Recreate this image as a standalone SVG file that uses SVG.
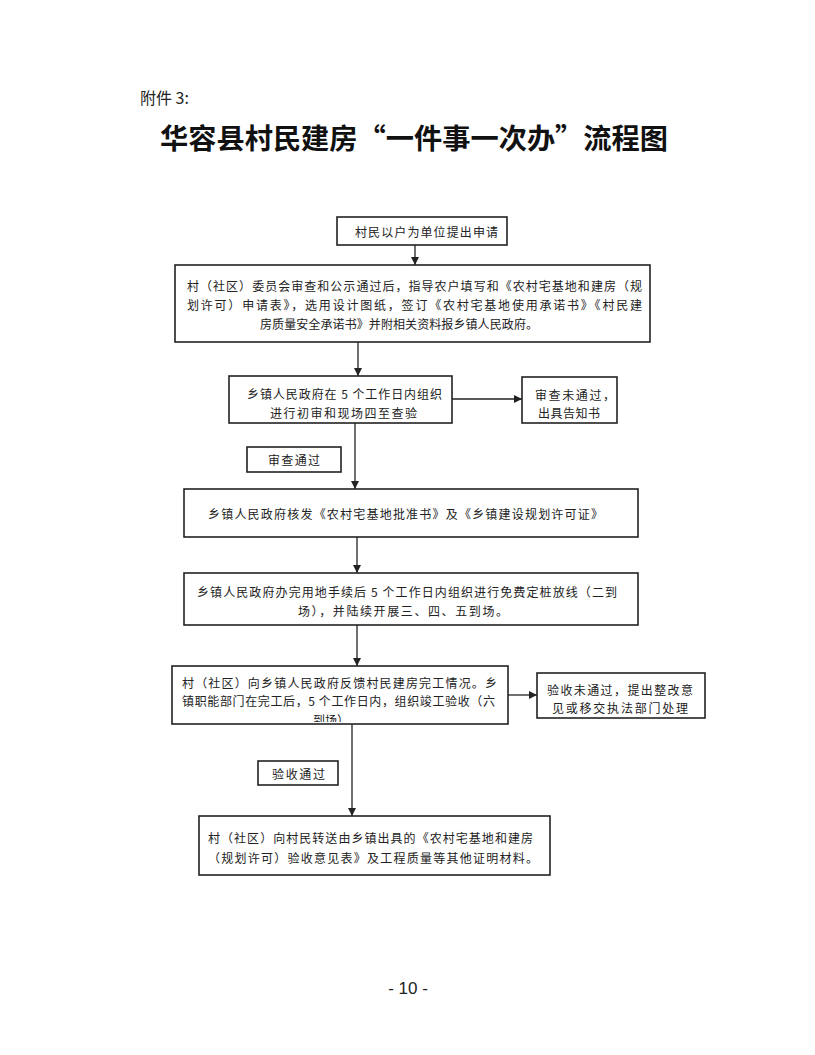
<svg xmlns="http://www.w3.org/2000/svg" width="815" height="1055" viewBox="0 0 815 1055">
<style>
.box{fill:#fff;stroke:#222;stroke-width:1.6}
.t{font-family:"Noto Sans CJK SC","Noto Sans",sans-serif;font-size:12px;fill:#222;dominant-baseline:central}
.c{stroke:#222;stroke-width:1.3;fill:none;marker-end:url(#ah)}
</style>
<defs>
<marker id="ah" viewBox="0 0 10 10" refX="10" refY="5" markerWidth="9" markerHeight="8" markerUnits="userSpaceOnUse" orient="auto">
<path d="M0,0 L10,5 L0,10 z" fill="#222"/>
</marker>
<clipPath id="clip7"><rect x="172" y="666" width="336" height="56"/></clipPath>
</defs>
<rect width="815" height="1055" fill="#fff"/>
<text x="140" y="97" style="font-family:'Noto Sans CJK SC',sans-serif;font-size:16px;fill:#222;dominant-baseline:central">附件 3:</text>
<text x="160" y="137" textLength="508" lengthAdjust="spacingAndGlyphs" style="font-family:'Noto Sans CJK SC',sans-serif;font-size:28px;font-weight:bold;fill:#111;dominant-baseline:central">华容县村民建房“一件事一次办”流程图</text>

<g id="connectors">
<line class="c" x1="415" y1="245" x2="415" y2="265"/>
<line class="c" x1="358" y1="342" x2="358" y2="376"/>
<line class="c" x1="452" y1="399" x2="522" y2="399"/>
<line class="c" x1="355" y1="423" x2="355" y2="489"/>
<line class="c" x1="357" y1="537" x2="357" y2="573"/>
<line class="c" x1="357" y1="625" x2="357" y2="666"/>
<line class="c" x1="508" y1="695" x2="537" y2="695"/>
<line class="c" x1="352" y1="724" x2="352" y2="816"/>
</g>

<g id="n1">
<rect class="box" x="337" y="217" width="170" height="28"/>
<text class="t" x="355" y="231" textLength="143" lengthAdjust="spacing">村民以户为单位提出申请</text>
</g>
<g id="n2">
<rect class="box" x="175" y="265" width="475" height="77"/>
<text class="t" x="187" y="285" textLength="455" lengthAdjust="spacing">村（社区）委员会审查和公示通过后，指导农户填写和《农村宅基地和建房（规</text>
<text class="t" x="187" y="304" textLength="455" lengthAdjust="spacing">划许可）申请表》，选用设计图纸，签订《农村宅基地使用承诺书》《村民建</text>
<text class="t" x="260" y="323" textLength="278" lengthAdjust="spacing">房质量安全承诺书》并附相关资料报乡镇人民政府。</text>
</g>
<g id="n3">
<rect class="box" x="229" y="376" width="223" height="47"/>
<text class="t" x="247" y="393" textLength="195" lengthAdjust="spacing">乡镇人民政府在 5 个工作日内组织</text>
<text class="t" x="270" y="412" textLength="147" lengthAdjust="spacing">进行初审和现场四至查验</text>
</g>
<g id="n4">
<rect class="box" x="522" y="377" width="95" height="46"/>
<text class="t" x="535" y="394" textLength="80" lengthAdjust="spacing">审查未通过，</text>
<text class="t" x="538" y="412" textLength="62" lengthAdjust="spacing">出具告知书</text>
</g>
<g id="n5">
<rect class="box" x="247" y="447" width="94" height="25"/>
<text class="t" x="268" y="459.5" textLength="52" lengthAdjust="spacing">审查通过</text>
</g>
<g id="n6">
<rect class="box" x="184" y="489" width="454" height="48"/>
<text class="t" x="208" y="513" textLength="395" lengthAdjust="spacing">乡镇人民政府核发《农村宅基地批准书》及《乡镇建设规划许可证》</text>
</g>
<g id="n7">
<rect class="box" x="184" y="573" width="454" height="52"/>
<text class="t" x="197" y="591" textLength="420" lengthAdjust="spacing">乡镇人民政府办完用地手续后 5 个工作日内组织进行免费定桩放线（二到</text>
<text class="t" x="298" y="610" textLength="210" lengthAdjust="spacing">场），并陆续开展三、四、五到场。</text>
</g>
<g id="n8">
<rect class="box" x="172" y="666" width="336" height="58"/>
<text class="t" x="182" y="682" textLength="315" lengthAdjust="spacing">村（社区）向乡镇人民政府反馈村民建房完工情况。乡</text>
<text class="t" x="182" y="700" textLength="313" lengthAdjust="spacing">镇职能部门在完工后，5 个工作日内，组织竣工验收（六</text>
<g clip-path="url(#clip7)"><text class="t" x="313" y="719" textLength="36" lengthAdjust="spacing">到场）</text></g>
</g>
<g id="n9">
<rect class="box" x="537" y="673" width="168" height="45"/>
<text class="t" x="547" y="689" textLength="146" lengthAdjust="spacing">验收未通过，提出整改意</text>
<text class="t" x="552" y="707" textLength="136" lengthAdjust="spacing">见或移交执法部门处理</text>
</g>
<g id="n10">
<rect class="box" x="258" y="761" width="80" height="24"/>
<text class="t" x="272" y="773" textLength="53" lengthAdjust="spacing">验收通过</text>
</g>
<g id="n11">
<rect class="box" x="199" y="816" width="351" height="59"/>
<text class="t" x="208" y="837" textLength="325" lengthAdjust="spacing">村（社区）向村民转送由乡镇出具的《农村宅基地和建房</text>
<text class="t" x="208" y="857" textLength="330" lengthAdjust="spacing">（规划许可）验收意见表》及工程质量等其他证明材料。</text>
</g>
<text x="408" y="988" text-anchor="middle" style="font-family:'Liberation Sans',sans-serif;font-size:17px;fill:#222;dominant-baseline:central">- 10 -</text>
</svg>
